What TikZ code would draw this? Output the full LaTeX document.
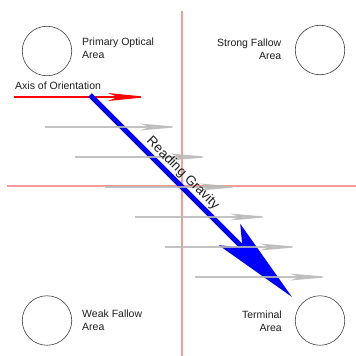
\documentclass[tikz,border=0pt]{standalone}
\usepackage{fontspec}
\setmainfont{Liberation Sans}
\usetikzlibrary{arrows.meta}
\definecolor{axisred}{RGB}{250,155,155}
\definecolor{flowgray}{RGB}{185,185,185}
\definecolor{txt}{RGB}{30,30,30}
\begin{document}
\begin{tikzpicture}[x=1pt,y=-1pt,
  area/.style={draw=black!75,line width=0.6pt,circle,minimum size=49.5pt,inner sep=0pt},
  lbl/.style={inner sep=0pt,font=\fontsize{10.5}{13}\selectfont,text=txt},
  axisline/.style={draw=axisred,line width=1.6pt},
  flow/.style={draw=flowgray,line width=1.3pt,opacity=0.85,-{Stealth[length=40pt,width=7pt,inset=9pt]}},
  orient/.style={draw=red,line width=1.4pt,-{Stealth[length=40pt,width=8pt,inset=10pt]}},
  gravity/.style={draw=blue,line width=5pt,-{Stealth[length=88pt,width=30pt,inset=18pt]}}
]
\useasboundingbox (0,0) rectangle (356,356);
% axes
\coordinate (vt) at (182,11);
\coordinate (vb) at (182,356);
\coordinate (hl) at (7,186);
\coordinate (hr) at (356,186);
\draw[axisline] (vt) -- (vb);
\draw[axisline] (hl) -- (hr);
% areas
\node[area] (pri) at (47,51) {};
\node[area] (str) at (320,50) {};
\node[area] (weak) at (47,320.5) {};
\node[area] (term) at (320,320.5) {};
\node[lbl,anchor=north west,align=left] (pril) at (82,37.5) {Primary Optical\\Area};
\node[lbl,anchor=north east,align=right] (strl) at (281.5,38.5) {Strong Fallow\\Area};
\node[lbl,anchor=north west,align=left] (weakl) at (82,309.5) {Weak Fallow\\Area};
\node[lbl,anchor=north east,align=right] (terml) at (282,310.5) {Terminal\\Area};
\node[lbl,anchor=north west] (axl) at (15,81.5) {Axis of Orientation};
% orientation arrow
\coordinate (os) at (14,97);
\coordinate (oe) at (148,97);
\draw[orient] (os) -- (oe);
% reading gravity
\coordinate (gs) at (90,95);
\coordinate (ge) at (292,297);
\draw[gravity] (gs) -- (ge);
% flow arrows
\foreach \i in {0,...,5}{
  \coordinate (f\i s) at (45+30*\i,127+30*\i);
  \coordinate (f\i e) at (180+30*\i,127+30*\i);
  \draw[flow] (f\i s) -- (f\i e);
}
% label of the reading gravity arrow, on top
\path (gs) -- (ge) node[pos=0.424,sloped,above=3.5pt,inner sep=0pt,font=\fontsize{13.5}{16}\selectfont,text=txt] (rg) {Reading Gravity};
\end{tikzpicture}
\end{document}
